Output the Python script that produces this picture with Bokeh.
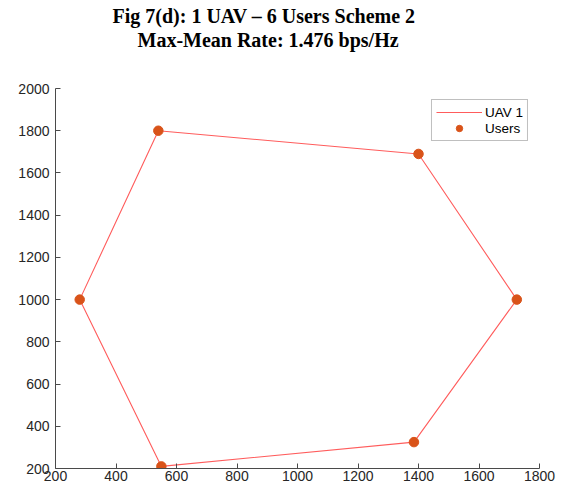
from bokeh.plotting import figure
from bokeh.models import Title, Legend, LegendItem, FixedTicker, Range1d
from bokeh.embed import file_html
from bokeh.resources import INLINE

# Data
user_x = [540, 1400, 1725, 1385, 550, 280]
user_y = [1800, 1690, 1000, 325, 210, 1000]
# UAV trajectory visits users in order and closes the loop
uav_x = user_x + [user_x[0]]
uav_y = user_y + [user_y[0]]
x_ticks = [200, 400, 600, 800, 1000, 1200, 1400, 1600, 1800]
y_ticks = [200, 400, 600, 800, 1000, 1200, 1400, 1600, 1800, 2000]
title_line1 = "Fig 7(d): 1 UAV \u2013 6 Users Scheme 2"
title_line2 = "Max-Mean Rate: 1.476 bps/Hz"

p = figure(width=563, height=487, output_backend="svg", toolbar_location=None,
           x_range=Range1d(200, 1800), y_range=Range1d(200, 2000),
           min_border_left=55, min_border_top=88, min_border_right=24, min_border_bottom=19)
p.outline_line_color = None
p.grid.visible = False

title_style = dict(text_font="Liberation Serif", text_font_style="bold",
                   text_font_size="20px", text_color="#000000", align="left")
p.title.text = title_line1
for k, v in title_style.items():
    setattr(p.title, k, v)
p.title.offset = 57
p.title.standoff = 0
# spacer between the second title line and the plot area (added first: closest to frame)
spacer = Title(text=" ", standoff=14, **title_style)
p.add_layout(spacer, "above")
t2 = Title(text=title_line2, offset=82, standoff=0, **title_style)
p.add_layout(t2, "above")

for ax in (p.xaxis[0], p.yaxis[0]):
    ax.axis_line_color = "#4a4a4a"
    ax.major_tick_line_color = "#4a4a4a"
    ax.major_tick_in = 5
    ax.major_tick_out = 0
    ax.minor_tick_line_color = None
    ax.major_label_text_font = "Liberation Sans"
    ax.major_label_text_font_size = "14px"
    ax.major_label_text_color = "#262626"
p.xaxis.ticker = FixedTicker(ticks=x_ticks)
p.yaxis.ticker = FixedTicker(ticks=y_ticks)
p.xaxis.major_label_standoff = 2
p.yaxis.major_label_standoff = 6

r_line = p.line(uav_x, uav_y, line_color="#FF5C5C", line_width=1.1)
r_pts = p.scatter(user_x, user_y, size=9.5, fill_color="#D95319", line_color="#D95319")

legend = Legend(items=[LegendItem(label="UAV 1", renderers=[r_line]),
                       LegendItem(label="Users", renderers=[r_pts])],
                location="top_right")
legend.margin = 11
legend.padding = 4
legend.spacing = 0
legend.glyph_width = 46
legend.glyph_height = 16
legend.label_height = 16
legend.label_standoff = 3
legend.label_text_font = "Liberation Sans"
legend.label_text_font_size = "13.5px"
legend.label_text_color = "#000000"
legend.border_line_color = "#808080"
legend.border_line_width = 1
legend.background_fill_color = "white"
p.add_layout(legend, "center")

open("out.html", "w").write(file_html(p, INLINE))
